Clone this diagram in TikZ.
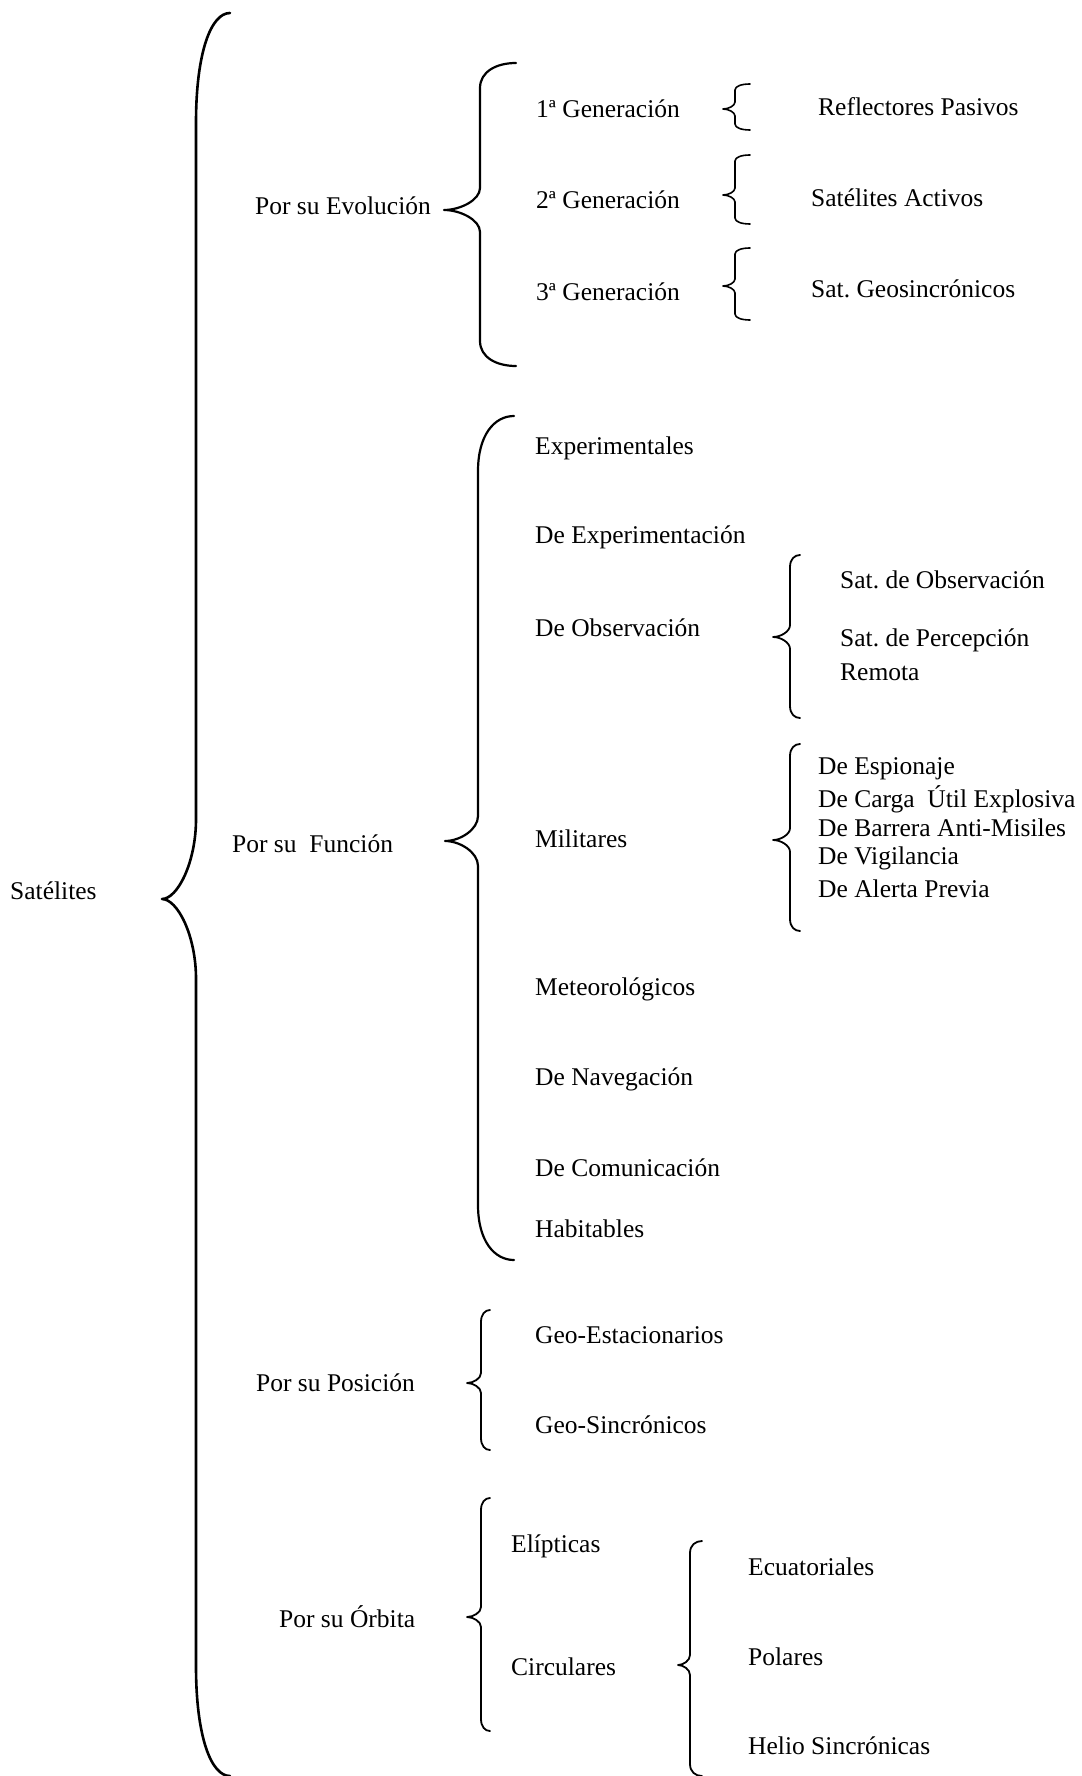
\documentclass[tikz,border=0pt]{standalone}
\usepackage{fontspec}
\setmainfont{Liberation Serif}
\frenchspacing
\tikzset{
rotulo/.style={anchor=west,inner sep=0pt,font=\fontsize{25.5}{30}\selectfont},
llave/.style={line width=2pt,line cap=round,line join=round}}
\begin{document}
\begin{tikzpicture}[x=1pt,y=-1pt]
\newcommand{\Llave}[9]{
\draw[llave,#1](#5,#6)..controls({#4+0.45*(#5-#4)},#6)and(#4,{#6+0.35*#8})..(#4,{#6+#8})
--(#4,{#3-#9})..controls(#4,{#3-0.45*#9})and({#2+0.45*(#4-#2)},#3)..(#2,#3)
..controls({#2+0.45*(#4-#2)},#3)and(#4,{#3+0.45*#9})..(#4,{#3+#9})
--(#4,{#7-#8})..controls(#4,{#7-0.35*#8})and({#4+0.45*(#5-#4)},#7)..(#5,#7);}
\useasboundingbox(0,0)rectangle(1081,1776);
% raiz
\node[rotulo](sat)at(10,891){Satélites};
\Llave{line width=2.6pt}{162}{899}{196}{230}{13}{1776}{110}{80}
% por su evolucion
\node[rotulo](evol)at(255,206){Por su Evolución};
\Llave{line width=2.2pt}{444}{210}{480}{516}{63}{366}{25}{22}
\node[rotulo](gen1)at(536,109){1ª Generación};
\node[rotulo](gen2)at(536,200){2ª Generación};
\node[rotulo](gen3)at(536,292){3ª Generación};
\Llave{line width=1.6pt}{723}{109}{735}{750}{84}{130}{6}{7}
\Llave{line width=1.6pt}{723}{195}{735}{750}{155}{224}{6}{7}
\Llave{line width=1.6pt}{723}{286}{735}{750}{248}{320}{6}{7}
\node[rotulo](refl)at(818,107){Reflectores Pasivos};
\node[rotulo](activ)at(811,198){Satélites Activos};
\node[rotulo](geos)at(811,289){Sat. Geosincrónicos};
% por su funcion
\node[rotulo](func)at(232,844){Por su\ \ Función};
\Llave{line width=2.2pt}{445}{841}{478}{514}{416}{1260}{55}{25}
\node[rotulo](exp)at(535,448){Experimentales};
\node[rotulo](dexp)at(535,537){De Experimentación};
\node[rotulo](obs)at(535,628){De Observación};
\node[rotulo](mil)at(535,839){Militares};
\node[rotulo](met)at(535,989){Meteorológicos};
\node[rotulo](nav)at(535,1079){De Navegación};
\node[rotulo](com)at(535,1168){De Comunicación};
\node[rotulo](hab)at(535,1229){Habitables};
\Llave{line width=1.8pt}{773}{637}{790}{800}{555}{718}{12}{12}
\node[rotulo](sobs)at(840,580){Sat. de Observación};
\node[rotulo](sper)at(840,640){Sat. de Percepción};
\node[rotulo](srem)at(840,672){Remota};
\Llave{line width=1.8pt}{773}{840}{790}{800}{744}{931}{12}{12}
\node[rotulo](esp)at(818,769){De Espionaje};
\node[rotulo](carga)at(818,799){De Carga\ \ Útil Explosiva};
\node[rotulo](barr)at(818,828){De Barrera Anti-Misiles};
\node[rotulo](vig)at(818,858){De Vigilancia};
\node[rotulo](alert)at(818,889){De Alerta Previa};
% por su posicion
\node[rotulo](pos)at(256,1383){Por su Posición};
\Llave{line width=1.8pt}{467}{1383}{481}{490}{1310}{1450}{12}{10}
\node[rotulo](gest)at(535,1335){Geo-Estacionarios};
\node[rotulo](gsin)at(535,1425){Geo-Sincrónicos};
% por su orbita
\node[rotulo](orb)at(279,1617){Por su Órbita};
\Llave{line width=1.8pt}{467}{1617}{481}{490}{1498}{1731}{12}{10}
\node[rotulo](elip)at(511,1546){Elípticas};
\node[rotulo](circ)at(511,1667){Circulares};
\Llave{line width=1.8pt}{678}{1665}{690}{702}{1541}{1776}{12}{10}
\node[rotulo](ecua)at(748,1567){Ecuatoriales};
\node[rotulo](pol)at(748,1657){Polares};
\node[rotulo](helio)at(748,1746){Helio Sincrónicas};
\end{tikzpicture}
\end{document}
